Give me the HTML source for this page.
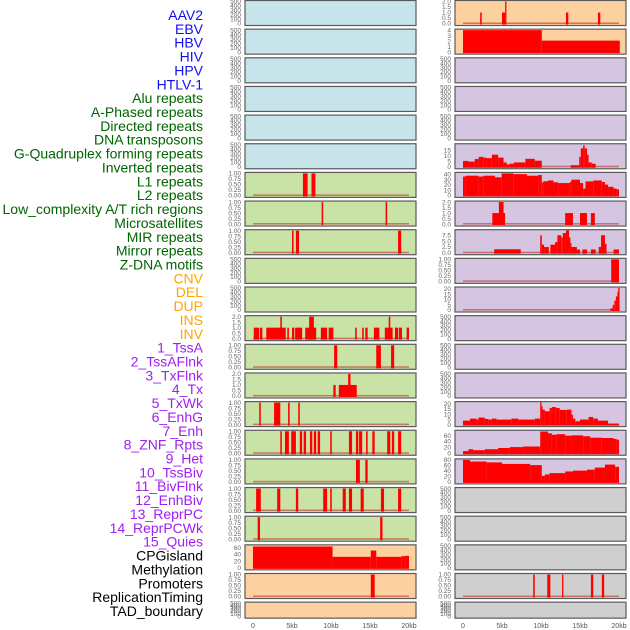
<!DOCTYPE html>
<html><head><meta charset="utf-8"><style>
body{margin:0;background:#fff}
svg{display:block;font-family:"Liberation Sans",sans-serif}
</style></head><body>
<svg id="chart" width="630" height="630" viewBox="0 0 630 630" xmlns="http://www.w3.org/2000/svg"></svg>
<script>
// ---- data (kb start, kb end, value) ----
const labelsBlue=["AAV2","EBV","HBV","HIV","HPV","HTLV-1"];
const labelsGreen=["Alu repeats","A-Phased repeats","Directed repeats","DNA transposons","G-Quadruplex forming repeats","Inverted repeats","L1 repeats","L2 repeats","Low_complexity A/T rich regions","Microsatellites","MIR repeats","Mirror repeats","Z-DNA motifs"];
const labelsOrange=["CNV","DEL","DUP","INS","INV"];
const labelsPurple=["1_TssA","2_TssAFlnk","3_TxFlnk","4_Tx","5_TxWk","6_EnhG","7_Enh","8_ZNF_Rpts","9_Het","10_TssBiv","11_BivFlnk","12_EnhBiv","13_ReprPC","14_ReprPCWk","15_Quies"];
const labelsBlack=["CPGisland","Methylation","Promoters","ReplicationTiming","TAD_boundary"];
const xTickLabels=["0","5kb","10kb","15kb","20kb"];
const xTickValues=[0,5,10,15,20];

const ticks500=["0","100","200","300","400","500"];
const ticks1=["0.00","0.25","0.50","0.75","1.00"];
const ticks2=["0.0","0.5","1.0","1.5","2.0"];
const ticks4=["0","1","2","3","4"];
const ticks15=["0","5","10","15"];
const ticks20=["0","5","10","15","20"];
const ticks40=["0","10","20","30","40"];
const ticks75=["0.0","2.5","5.0","7.5"];
const ticks60=["0","20","40","60"];
const ticks80=["0","20","40","60","80"];

const L_l1=[[6.4,7.0,1],[7.5,8.0,1]];
const L_l2=[[8.8,9.0,1],[17.0,17.2,1]];
const L_l3=[[5.0,5.2,1],[5.5,5.9,1],[18.6,19.0,1]];
const L_ins=[[0.1,0.8,1],[0.9,1.2,1],[1.7,4.2,1],[3.5,3.7,2],[4.4,4.6,1],[5.0,5.3,1],[5.4,6.3,1],[6.7,8.1,1],[7.2,7.8,2],[8.7,9.5,1],[9.7,10.3,1],[13.1,13.3,1],[14.0,14.2,1],[14.4,14.7,1],[15.5,16.2,1],[16.9,17.3,1],[17.4,17.6,2],[17.3,17.9,1],[18.2,18.6,1],[18.7,19.1,1],[19.7,20.0,1]];
const L_tssa=[[10.4,10.8,1],[15.8,16.4,1],[17.7,18.1,1]];
const L_flnk=[[10.3,10.6,1],[11.0,13.3,1],[12.2,12.5,2]];
const L_txflnk=[[0.8,1.0,1],[2.7,3.5,1],[4.5,4.7,1],[5.8,6.0,1]];
const L_tx=[[3.5,3.7,1],[4.1,4.6,1],[4.9,5.5,1],[6.0,6.3,1],[6.5,6.8,1],[7.3,7.6,1],[7.8,8.1,1],[8.3,8.6,1],[9.9,10.1,1],[12.3,12.7,1],[13.2,13.5,1],[13.6,14.0,1],[14.5,14.7,1],[15.3,15.6,1],[17.2,17.6,1],[17.8,18.1,1],[18.6,19.0,1]];
const L_txwk=[[13.2,13.7,1],[14.4,14.7,1]];
const L_enhg=[[0.4,1.0,1],[3.1,3.5,1],[5.5,5.8,1],[9.0,9.5,1],[9.9,10.1,1],[11.5,11.9,1],[12.3,12.7,1],[13.8,14.2,1],[16.4,16.8,1],[18.6,19.0,1]];
const L_enh=[[0.6,0.9,1],[16.3,16.6,1]];
const L_cpg=[[0,10.2,64],[10.2,15.1,33],[15.1,15.8,52],[15.8,19.0,33],[19.0,19.5,35],[19.5,20.0,36]];
const L_prom=[[15.1,15.6,1]];

const R_aav=[[2.2,2.4,1],[5.0,5.4,1],[5.4,5.5,2],[13.2,13.5,1],[17.3,17.6,1]];
const R_ebv=[[0,10.1,4],[10.1,20.1,2.1]];
const R_g4=[[0,0.7,5.3],[0.7,1.5,4.7],[1.5,2.0,7],[2.0,2.6,9],[2.6,3.0,8.3],[3.0,3.7,7.8],[3.7,4.5,11],[4.5,5.2,8.3],[5.2,5.6,3.9],[5.6,6.0,2.2],[6.0,6.5,2.8],[6.5,8.0,3.9],[8.0,9.2,7.2],[9.2,10.1,5.5],[13.8,14.9,1.4],[14.9,15.1,9],[15.1,15.4,16.7],[15.4,15.6,19.4],[15.6,15.9,16.7],[15.9,16.1,11],[16.1,16.5,3.9],[16.5,17.0,2.8]];
const R_inv=[[0,0.34,36],[0.34,1.97,37.6],[1.97,2.6,36],[2.6,4.1,37.6],[4.1,4.96,34.5],[4.96,6.45,42],[6.45,8.2,40.6],[8.2,9.66,37.6],[9.66,10.1,39],[10.1,10.3,25],[10.3,10.9,27],[10.9,11.6,28.5],[11.6,12.2,25],[12.2,13.7,23.6],[13.7,13.9,26],[13.9,15.0,30],[15.0,15.4,23.6],[15.4,15.7,13],[15.7,16.7,26.7],[16.7,17.8,28.5],[17.8,18.2,25.5],[18.2,18.6,20.6],[18.6,19.3,16.4],[19.3,19.7,13],[19.7,20.0,11.5]];
const R_l1=[[3.76,5.4,1],[4.6,5.2,2],[13.1,14.1,1],[15.0,15.9,1],[16.4,16.9,1]];
const R_l2=[[4.0,7.4,1.5],[9.9,10.1,7.6],[10.1,10.4,3.5],[10.4,11.0,2.5],[11.2,11.8,3.5],[11.8,12.1,4.6],[12.1,12.6,7.6],[12.6,12.8,6.7],[12.8,13.2,8.6],[13.2,13.6,9.7],[13.6,13.7,6.7],[13.7,13.9,4.3],[13.9,14.6,2.5],[14.6,15.0,1.4],[15.3,15.9,1.4],[16.4,17.0,1.4],[17.4,17.7,2.5],[17.7,18.2,7.6],[18.2,18.4,3.9],[19.3,20.0,1.4]];
const R_low=[[19.0,20.0,1]];
const R_micro=[[18.9,19.2,1.6],[19.2,19.4,5],[19.4,19.6,9],[19.6,19.8,13],[19.8,19.9,17.4],[19.9,20.0,21]];
const R_txwk=[[0,0.9,3.8],[0.9,1.75,5.7],[1.75,1.97,4.8],[1.97,2.8,6.7],[2.8,3.25,5.4],[3.25,3.7,4.8],[3.7,4.3,5.7],[4.3,6.2,4.8],[6.2,7.1,5.7],[7.1,9.2,4.8],[9.2,9.9,5.7],[9.9,10.0,22],[10.0,10.2,17.5],[10.2,10.5,14.3],[10.5,11.1,12.7],[11.1,11.4,15.9],[11.4,11.9,16.8],[11.9,12.4,15.9],[12.4,13.3,14],[13.3,13.9,14.3],[13.9,14.1,9.5],[14.1,14.4,5.7],[14.4,15.0,3.2],[15.0,16.1,4.8],[16.1,16.7,7.3],[16.7,17.3,5.7],[17.3,18.6,3.8],[18.6,20.0,1]];
const R_enhg=[[0,0.7,7.4],[0.7,1.3,13.7],[1.3,2.8,10.5],[2.8,4.5,13.7],[4.5,6.0,18],[6.0,7.7,21],[7.7,9.9,23],[9.9,10.9,74],[10.9,11.4,68],[11.4,12.0,63],[12.0,13.1,65],[13.1,13.9,60],[13.9,15.4,61],[15.4,16.3,58],[16.3,17.8,53],[17.8,19.3,52],[19.3,19.7,49],[19.7,20.0,46]];
const R_enh=[[0,0.9,80],[0.9,3.0,74],[3.0,5.0,71],[5.0,8.6,65.5],[8.6,10.1,61],[10.1,10.5,22],[10.5,11.1,27],[11.1,13.1,32],[13.1,14.1,38],[14.1,15.9,41],[15.9,16.9,44.5],[16.9,18.2,52],[18.2,19.5,63],[19.5,20.0,55]];
const R_prom=[[9.0,9.2,1],[10.8,11.2,1],[12.7,12.8,1],[16.4,16.7,1],[17.8,18.1,1]];

const BLUE="#c7e4ea",GREEN="#c9e2a6",ORANGE="#fdd09f",PURPLE="#d5c5e1",GRAY="#cfcfcf";
const leftPanels=[
 [BLUE,ticks500,500,[]],[BLUE,ticks500,500,[]],[BLUE,ticks500,500,[]],[BLUE,ticks500,500,[]],[BLUE,ticks500,500,[]],[BLUE,ticks500,500,[]],
 [GREEN,ticks1,1,L_l1],[GREEN,ticks1,1,L_l2],[GREEN,ticks1,1,L_l3],[GREEN,ticks500,500,[]],[GREEN,ticks500,500,[]],
 [GREEN,ticks2,2,L_ins],[GREEN,ticks1,1,L_tssa],[GREEN,ticks2,2,L_flnk],[GREEN,ticks1,1,L_txflnk],[GREEN,ticks1,1,L_tx],
 [GREEN,ticks1,1,L_txwk],[GREEN,ticks1,1,L_enhg],[GREEN,ticks1,1,L_enh],
 [ORANGE,ticks60,66,L_cpg],[ORANGE,ticks1,1,L_prom],[ORANGE,ticks500,500,[]]];
const rightPanels=[
 [ORANGE,ticks2,2,R_aav],[ORANGE,ticks4,4,R_ebv],[PURPLE,ticks500,500,[]],[PURPLE,ticks500,500,[]],[PURPLE,ticks500,500,[]],
 [PURPLE,ticks15,20,R_g4],[PURPLE,ticks40,42,R_inv],[PURPLE,ticks2,2,R_l1],[PURPLE,ticks75,9.6,R_l2],[PURPLE,ticks1,1,R_low],
 [PURPLE,ticks20,21,R_micro],[PURPLE,ticks500,500,[]],[PURPLE,ticks500,500,[]],[PURPLE,ticks500,500,[]],[PURPLE,ticks20,21,R_txwk],[PURPLE,ticks60,75,R_enhg],
 [PURPLE,ticks80,80,R_enh],[GRAY,ticks500,500,[]],[GRAY,ticks500,500,[]],[GRAY,ticks500,500,[]],
 [GRAY,ticks1,1,R_prom],[GRAY,ticks500,500,[]]];

const NS="http://www.w3.org/2000/svg";
const svg=document.getElementById('chart');
function mk(tag,attrs,parent){const e=document.createElementNS(NS,tag);for(const k in attrs)e.setAttribute(k,attrs[k]);(parent||svg).appendChild(e);return e;}

const groups=[[labelsBlue,"#1010ee"],[labelsGreen,"#006400"],[labelsOrange,"#ffa500"],[labelsPurple,"#a020f0"],[labelsBlack,"#000"]];
let li=0;
groups.forEach(([arr,col])=>arr.forEach(s=>{
  const t=mk('text',{x:203,y:15+li*13.86+5,'text-anchor':'end','font-size':14,fill:col});
  t.textContent=s;
  
  
  li++;
}));

function drawPanel(col,row,p){
  const [bg,ticks,ymax,segs]=p;
  const x0=col?455:245,w=171,top=row*28.65+0.5,h=row===21?16:25;
  const xs=kb=>x0+8+kb*7.8;
  const ys=v=>top+h-2-v/ymax*(h-3);
  const g=mk('g',{});
  
  
  mk('rect',{x:x0,y:top,width:w,height:h,fill:bg,stroke:'#5a5a5a','stroke-width':1.2},g);
  if(segs.length){
    const b=mk('rect',{x:xs(0),y:ys(0)-1,width:xs(20)-xs(0),height:1.5,fill:'#c0302a',opacity:0.6},g);
    
    
  }
  segs.forEach(([a,bk,v])=>{
    const yt=Math.max(ys(v),top+0.6);
    const r=mk('rect',{x:xs(a),y:yt,width:Math.max(xs(bk)-xs(a),1.3),height:ys(0)+1-yt,fill:'#ff0000'},g);
    
    
  });
  ticks.forEach(lbl=>{
    const v=parseFloat(lbl);
    const t=mk('text',{x:x0-4,y:ys(v)+2.2,'text-anchor':'end','font-size':6.5,fill:'#666'},g);
    t.textContent=lbl;
    
    
  });
}
leftPanels.forEach((p,i)=>drawPanel(0,i,p));
rightPanels.forEach((p,i)=>drawPanel(1,i,p));

[245,455].forEach(x0=>{
  xTickValues.forEach((v,i)=>{
    const t=mk('text',{x:x0+8+v*7.8,y:628,'text-anchor':'middle','font-size':7,fill:'#555'});
    t.textContent=xTickLabels[i];
    
    
  });
});
</script>
</body></html>
